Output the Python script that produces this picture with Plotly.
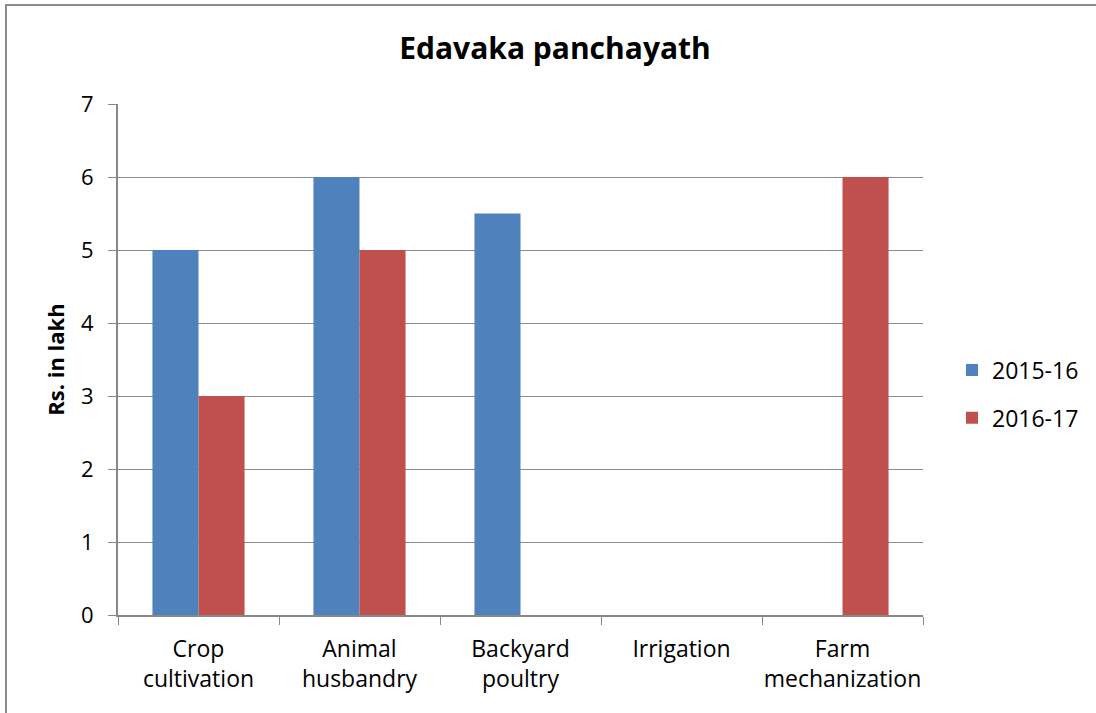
import plotly.graph_objects as go

categories = ["Crop<br>cultivation", "Animal<br>husbandry", "Backyard<br>poultry", "Irrigation", "Farm<br>mechanization"]
values_2015 = [5, 6, 5.5, None, None]
values_2016 = [3, 5, None, None, 6]
y_ticks = [0, 1, 2, 3, 4, 5, 6, 7]

W, H = 1096, 713
L, R, T, B = 118, 923, 104, 615
FONT = "Open Sans"

fig = go.Figure()
fig.add_trace(go.Bar(x=categories, y=values_2015, name="2015-16",
                     marker=dict(color="#4F81BD", line=dict(width=0)), legendgroup="a"))
fig.add_trace(go.Bar(x=categories, y=values_2016, name="2016-17",
                     marker=dict(color="#C0504D", line=dict(width=0)), legendgroup="b"))


def px(xp):
    return (xp - L) / (R - L)


def py(yp):
    return (B - yp) / (B - T)


fig.update_layout(
    width=W, height=H,
    margin=dict(l=L, r=W - R, t=T, b=H - B, pad=0, autoexpand=False),
    paper_bgcolor="white", plot_bgcolor="white",
    barmode="group", bargap=0.428, bargroupgap=0,
    font=dict(family=FONT, size=22, color="black"),
    title=dict(text="<b>Edavaka panchayath</b>", xref="container", x=555 / W,
               xanchor="center", yref="container", y=1 - 48 / H, yanchor="middle",
               font=dict(size=30, family=FONT)),
    showlegend=True,
    legend=dict(x=px(952), xanchor="left", y=py(394), yanchor="middle",
                font=dict(size=23), tracegroupgap=15, itemwidth=30,
                bgcolor="rgba(0,0,0,0)"),
    xaxis=dict(type="category", tickson="boundaries", ticks="outside", ticklen=8,
               tickcolor="#888888", showline=True, linecolor="#888888", linewidth=2,
               showgrid=False, tickfont=dict(size=23), ticklabelstandoff=12,
               tickangle=0, automargin=False, fixedrange=True),
    yaxis=dict(range=[0, 7], tickvals=y_ticks, ticks="outside", ticklen=8,
               tickcolor="#888888", showline=True, linecolor="#888888", linewidth=2,
               showgrid=True, gridcolor="#8c8c8c", gridwidth=1, zeroline=False,
               tickfont=dict(size=22), ticklabelstandoff=10, automargin=False,
               title=dict(text="<b>Rs. in lakh</b>", font=dict(size=22), standoff=10)),
    shapes=[dict(type="rect", xref="paper", yref="paper",
                 x0=px(6), x1=px(1110), y0=py(730), y1=py(5),
                 line=dict(color="#8c8c8c", width=2), fillcolor="rgba(0,0,0,0)",
                 layer="below")],
)

fig.write_html("out.html")
